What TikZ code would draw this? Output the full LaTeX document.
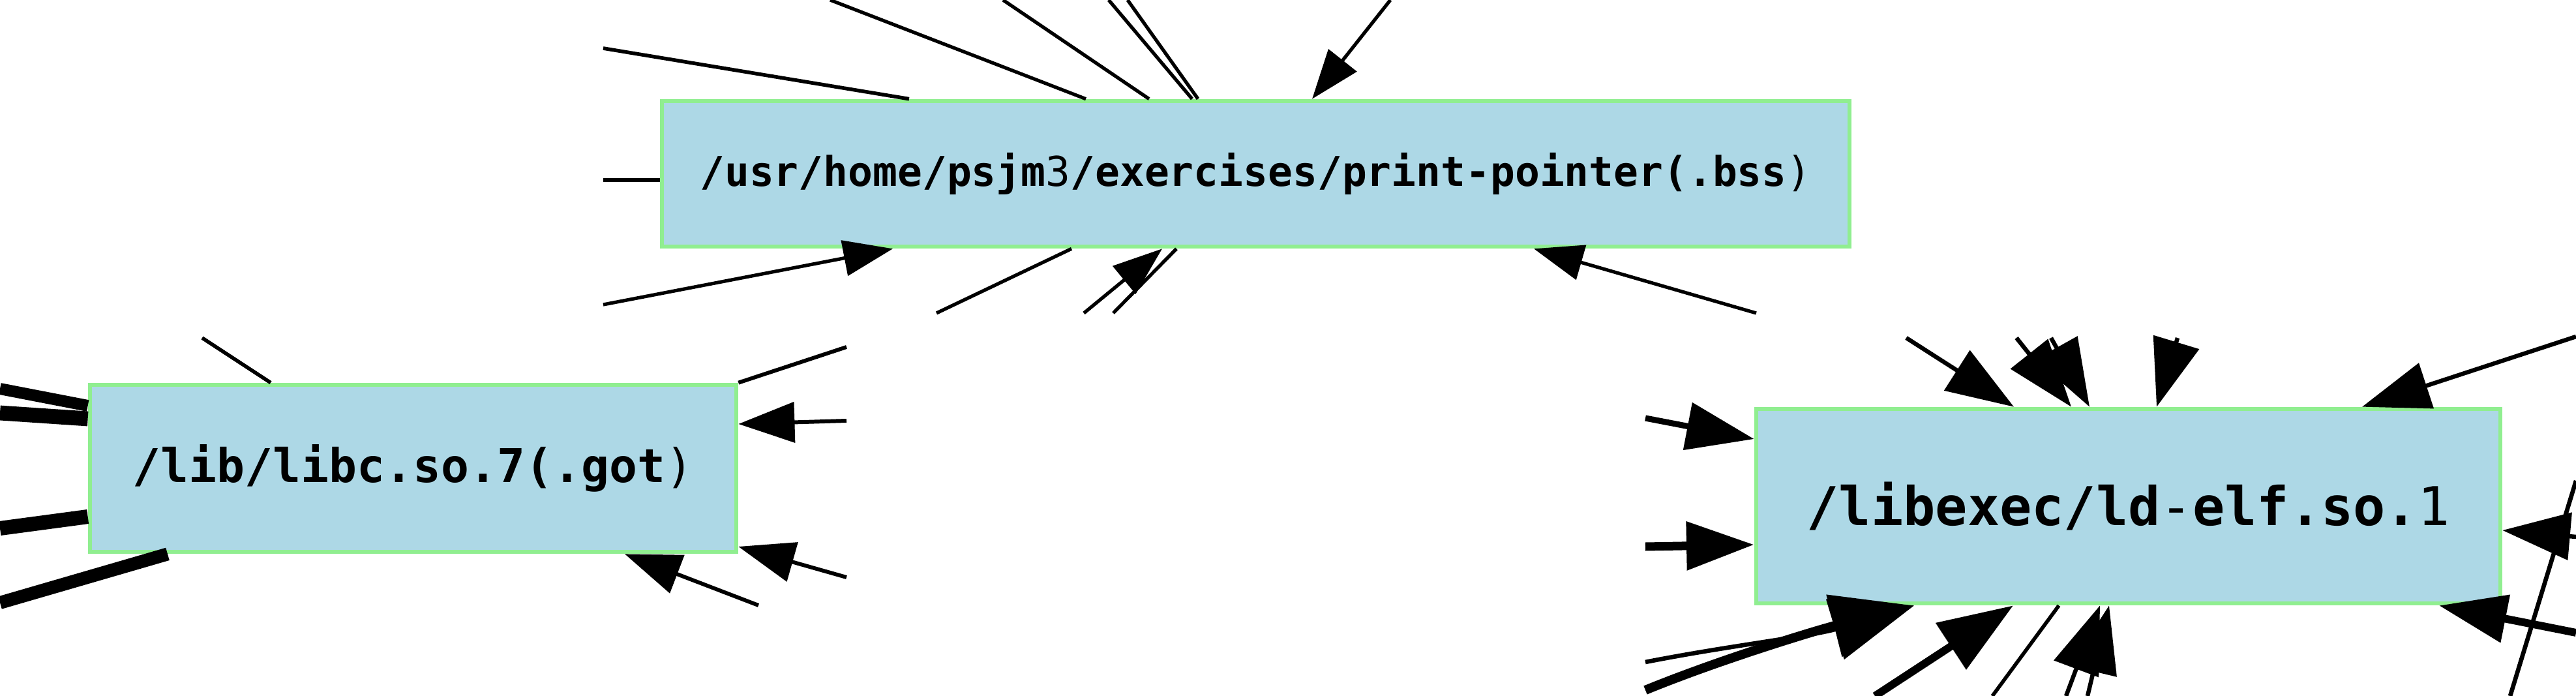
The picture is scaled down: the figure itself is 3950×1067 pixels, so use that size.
\documentclass[tikz,border=0pt]{standalone}
\usepackage{fontspec}
\setmonofont{DejaVu Sans Mono}
\usetikzlibrary{arrows.meta}
\definecolor{nodefill}{HTML}{ADD8E6}
\definecolor{nodeline}{HTML}{90EE90}
\begin{document}
\begin{tikzpicture}[x=0.1mm,y=-0.1mm,
  box/.style={draw=nodeline, fill=nodefill, line width=1.9pt, inner sep=0pt},
  lbl/.style={font=\ttfamily\bfseries\fontsize{#1}{#1}\selectfont},
  conn/.style={draw=black, line width=#1},
  tiptop/.style={-{Triangle[length=21.5pt,width=15.5pt]}},
  tipleft/.style={-{Triangle[length=24.5pt,width=17.5pt]}},
  tipright/.style={-{Triangle[length=29.5pt,width=20.5pt]}},
  tipmid/.style={-{Triangle[length=32.5pt,width=23.5pt]}},
  tipbig/.style={-{Triangle[length=36pt,width=27pt]}}
]
\useasboundingbox (0,0) rectangle (3950,1067);
\fill[white] (0,0) rectangle (3950,1067);

% nodes
\node[box, lbl=17.9, minimum width=182.1mm, minimum height=22.3mm] (bss) at (1925.5,266.5)
  {/usr/home/psjm\textmd{3}/exercises/print-pointer(.bss\textmd{)}};
\node[box, lbl=20.3, minimum width=99.1mm, minimum height=25.6mm] (libc) at (633.5,718)
  {/lib/libc.so.7(.got\textmd{)}};
\node[box, lbl=23.3, minimum width=114.1mm, minimum height=29.8mm] (rtld) at (3263.5,776)
  {/libexec/ld\textmd{-}elf.so.\textmd{1}};

% free ends: top panel
\coordinate (pa) at (925,74);
\coordinate (pb) at (1273,0);
\coordinate (pc) at (1538,0);
\coordinate (pd) at (1700,0);
\coordinate (pe) at (1729,0);
\coordinate (pf) at (2132,0);
\coordinate (pg) at (925,276);
\coordinate (ph) at (925,467);
\coordinate (pi) at (1436,480);
\coordinate (pj) at (1662,480);
\coordinate (pk) at (1707,480);
\coordinate (pl) at (2693,480);

\draw[conn=1.6pt] (pa) -- (bss.north -| 1394,0);
\draw[conn=1.5pt] (pb) -- (bss.north -| 1665,0);
\draw[conn=1.5pt] (pc) -- (bss.north -| 1762,0);
\draw[conn=1.5pt] (pd) -- (bss.north -| 1828,0);
\draw[conn=1.5pt] (pe) -- (bss.north -| 1837,0);
\draw[conn=1.5pt, tiptop] (pf) -- (bss.north -| 2012,0);
\draw[conn=1.5pt] (pg) -- (bss.west |- 0,276);
\draw[conn=1.5pt, tiptop] (ph) -- (bss.south -| 1369,0);
\draw[conn=1.5pt] (pi) -- (bss.south -| 1643,0);
\draw[conn=1.5pt, tiptop] (pj) -- (bss.south -| 1782,0);
\draw[conn=1.5pt] (pk) -- (bss.south -| 1804,0);
\draw[conn=1.5pt, tiptop] (pl) -- (bss.south -| 2352,0);

% free ends: left panel
\coordinate (qa) at (0,596);
\coordinate (qb) at (0,633);
\coordinate (qc) at (0,810);
\coordinate (qd) at (0,924);
\coordinate (qe) at (310,518);
\coordinate (qf) at (1298,532);
\coordinate (qg) at (1298,645);
\coordinate (qh) at (1298,885);
\coordinate (qi) at (1163,928);

\draw[conn=5.1pt] (qa) -- (libc.west |- 0,622);
\draw[conn=6.5pt] (qb) -- (libc.west |- 0,642);
\draw[conn=6.3pt] (qc) -- (libc.west |- 0,792);
\draw[conn=5.7pt] (qd) -- (libc.south -| 257,0);
\draw[conn=1.6pt] (qe) -- (libc.north -| 415,0);
\draw[conn=1.7pt] (qf) -- (libc.north east);
\draw[conn=1.7pt, tipleft] (qg) -- (libc.east |- 0,650);
\draw[conn=1.7pt, tipleft] (qh) -- (libc.east |- 0,838);
\draw[conn=1.7pt, tipleft] (qi) -- (libc.south -| 958,0);

% free ends: right panel
\coordinate (ra) at (2523,641);
\coordinate (rb) at (2523,838);
\coordinate (rc) at (2923,518);
\coordinate (rd) at (3092,518);
\coordinate (re) at (3145,518);
\coordinate (rf) at (3339,518);
\coordinate (rg) at (3950,516);
\coordinate (rh) at (3950,823);
\coordinate (ri) at (3950,737);
\coordinate (rj) at (3849,1067);
\coordinate (rk) at (3950,970);
\coordinate (rl) at (2523,1015);
\coordinate (rm) at (2523,1058);
\coordinate (rn) at (2875,1067);
\coordinate (ro) at (3055,1067);
\coordinate (rp) at (3168,1067);
\coordinate (rq) at (3201,1067);

\draw[conn=2.6pt, tipright] (ra) -- (rtld.west |- 0,673);
\draw[conn=3.7pt, tipright] (rb) -- (rtld.west |- 0,835);
\draw[conn=1.85pt, tipright] (rc) -- (rtld.north -| 3088,0);
\draw[conn=1.85pt, tipright] (rd) -- (rtld.north -| 3176,0);
\draw[conn=1.85pt, tipright] (re) -- (rtld.north -| 3204,0);
\draw[conn=1.85pt, tipright] (rf) -- (rtld.north -| 3307,0);
\draw[conn=1.85pt, tipright] (rg) -- (rtld.north -| 3622,0);
\draw[conn=1.85pt, tipright] (rh) -- (rtld.east |- 0,813);
\draw[conn=1.9pt] (ri) -- (rj);
\draw[conn=3.4pt, tipright] (rk) -- (rtld.south -| 3740,0);
\draw[conn=1.9pt, tipbig] (rl) .. controls (2650,990) and (2780,975) .. (rtld.south -| 2935,0);
\draw[conn=4pt, tipbig] (rm) .. controls (2640,1010) and (2790,965) .. (rtld.south -| 2935,0);
\draw[conn=3.4pt, tipmid] (rn) -- (rtld.south -| 3087,0);
\draw[conn=1.6pt] (ro) -- (rtld.south -| 3157,0);
\draw[conn=1.85pt, tipright] (rp) -- (rtld.south -| 3220,0);
\draw[conn=1.85pt, tipright] (rq) -- (rtld.south -| 3234,0);
\end{tikzpicture}
\end{document}
